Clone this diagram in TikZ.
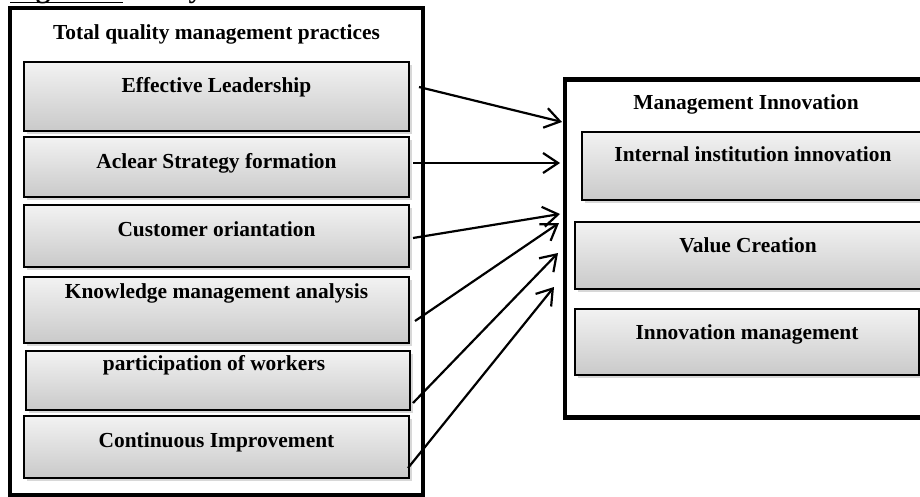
\documentclass[tikz,border=0pt]{standalone}
\usepackage{fontspec}
\setmainfont{Liberation Serif}
\usetikzlibrary{arrows.meta,shadows,calc}
\begin{document}
\begin{tikzpicture}[x=1pt,y=-1pt,
  frame/.style={draw, line width=4.2pt, rectangle, inner sep=0pt, fill=white},
  item/.style={draw, line width=1.4pt, rectangle, inner sep=0pt,
    top color=gray!10, bottom color=gray!42,
    drop shadow={shadow xshift=2.5pt, shadow yshift=-3pt, opacity=0.3}},
  lbl/.style={font=\bfseries\fontsize{21.4}{24}\selectfont, anchor=base, inner sep=0pt},
  figlbl/.style={font=\bfseries\fontsize{29}{34}\selectfont, anchor=base west, inner sep=0pt},
  link/.style={line width=2.2pt, -{Straight Barb[length=15pt,width=20pt,line width=2.2pt]}}
]
\useasboundingbox (0,0) rectangle (920,497);
\clip (0,0) rectangle (920,497);

% cut-off caption
\node[figlbl] (figA) at (10,-2) {Figure 2:};
\node[figlbl] (figB) at ($(figA.base east)+(7,0)$) {Study Model};
\draw[line width=1.4pt] ($(figA.base west)+(0,4.5)$) -- ($(figA.base east)+(0,4.5)$);

% left frame
\node[frame, minimum width=413pt, minimum height=487pt] (tqm) at (216.5,251.5) {};
\node[lbl] (tqmt) at (216.5,40) {Total quality management practices};

\node[item, minimum width=385pt, minimum height=69pt] (e1) at (216.5,96.5) {};
\node[item, minimum width=385pt, minimum height=60pt] (e2) at (216.5,167) {};
\node[item, minimum width=385pt, minimum height=62pt] (e3) at (216.5,236) {};
\node[item, minimum width=385pt, minimum height=66pt] (e4) at (216.5,310) {};
\node[item, minimum width=384pt, minimum height=59pt] (e5) at (218,380.5) {};
\node[item, minimum width=385pt, minimum height=62pt] (e6) at (216.5,447) {};

\node[lbl] (t1) at (216.5,93) {Effective Leadership};
\node[lbl] (t2) at (216.5,168) {Aclear Strategy formation};
\node[lbl] (t3) at (216.5,236) {Customer oriantation};
\node[lbl] (t4) at (216.5,298) {Knowledge management analysis};
\node[lbl] (t5) at (214,370) {participation of workers};
\node[lbl] (t6) at (216.5,447) {Continuous Improvement};

% right frame
\node[frame, minimum width=370pt, minimum height=338pt] (mi) at (750,248.5) {};
\node[lbl] (mit) at (746,110) {Management Innovation};

\node[item, minimum width=358pt, minimum height=68pt] (r1) at (761,166) {};
\node[item, minimum width=365pt, minimum height=67pt] (r2) at (757.5,255.5) {};
\node[item, minimum width=344pt, minimum height=66pt] (r3) at (747,342) {};

\node[lbl] (u1) at (753,161) {Internal institution innovation};
\node[lbl] (u2) at (748,252) {Value Creation};
\node[lbl] (u3) at (747,339) {Innovation management};

% connector ends
\coordinate (s1) at (419,87);  \coordinate (m1) at (562,122);
\coordinate (s2) at (413,163); \coordinate (m2) at (560,163);
\coordinate (s3) at (413,238); \coordinate (m3) at (560,214);
\coordinate (s4) at (415,321); \coordinate (m4) at (559,223);
\coordinate (s5) at (413,403); \coordinate (m5) at (558,253);
\coordinate (s6) at (408,468); \coordinate (m6) at (554,287);

\foreach \i in {1,...,6} {\draw[link] (s\i) -- (m\i);}
\end{tikzpicture}
\end{document}
